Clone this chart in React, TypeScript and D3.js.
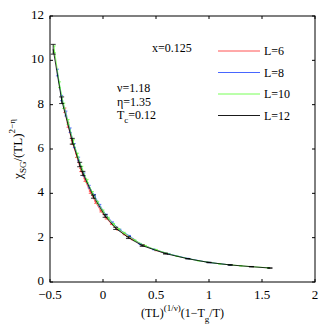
import React from 'react';
import * as d3 from 'd3';

const W = 332;
const H = 332;
const margin = { top: 16, right: 17, bottom: 50, left: 50 };

const xTicks = [-0.5, 0, 0.5, 1, 1.5, 2];
const yTicks = [0, 2, 4, 6, 8, 10, 12];

// L=6
const x6 = [-0.36, -0.33, -0.29, -0.25, -0.21, -0.17, -0.12, -0.07, -0.02, 0.03, 0.08, 0.14, 0.2, 0.28, 0.38, 0.5, 0.62];
const y6 = [7.75, 7.08, 6.3, 5.7, 5.05, 4.6, 4.05, 3.6, 3.2, 2.88, 2.62, 2.37, 2.16, 1.92, 1.66, 1.43, 1.26];
const e6 = [0.1, 0.1, 0.09, 0.08, 0.07, 0.06, 0.05, 0.05, 0.04, 0.04, 0.03, 0.03, 0.03, 0.02, 0.02, 0.02, 0.01];

// L=8
const x8 = [-0.43, -0.39, -0.35, -0.31, -0.27, -0.23, -0.18, -0.13, -0.08, -0.03, 0.03, 0.09, 0.16, 0.25, 0.35, 0.48, 0.62, 0.8, 1.0, 1.2];
const y8 = [9.45, 8.3, 7.6, 6.85, 6.15, 5.55, 4.85, 4.3, 3.9, 3.45, 3.02, 2.68, 2.35, 2.08, 1.72, 1.47, 1.27, 1.06, 0.88, 0.77];
const e8 = [0.15, 0.12, 0.11, 0.1, 0.09, 0.08, 0.07, 0.06, 0.05, 0.05, 0.04, 0.03, 0.03, 0.02, 0.02, 0.02, 0.01, 0.01, 0.01, 0.01];

// L=10
const x10 = [-0.46, -0.41, -0.37, -0.33, -0.28, -0.24, -0.2, -0.15, -0.1, -0.05, 0.0, 0.05, 0.1, 0.15, 0.2, 0.3, 0.4, 0.5, 0.7, 0.9, 1.1, 1.3, 1.56];
const y10 = [10.5, 8.9, 7.95, 7.22, 6.32, 5.72, 5.14, 4.56, 4.02, 3.59, 3.2, 2.88, 2.6, 2.38, 2.21, 1.88, 1.63, 1.45, 1.16, 0.96, 0.82, 0.73, 0.64];
const e10 = [0.15, 0.13, 0.12, 0.11, 0.1, 0.09, 0.08, 0.07, 0.06, 0.05, 0.05, 0.04, 0.04, 0.03, 0.03, 0.02, 0.02, 0.02, 0.01, 0.01, 0.01, 0.01, 0.01];

// L=12
const x12 = [-0.47, -0.39, -0.29, -0.22, -0.19, -0.09, 0.02, 0.12, 0.24, 0.37, 0.59, 0.8, 1.0, 1.2, 1.4, 1.575];
const y12 = [10.5, 8.2, 6.35, 5.3, 4.9, 3.85, 2.98, 2.42, 2.0, 1.64, 1.28, 1.05, 0.88, 0.77, 0.69, 0.63];
const e12 = [0.22, 0.15, 0.13, 0.1, 0.09, 0.07, 0.06, 0.05, 0.04, 0.03, 0.02, 0.01, 0.01, 0.01, 0.01, 0.01];

const series = [
  { label: 'L=6', color: '#ff4040', xs: x6, ys: y6, es: e6, cap: 1.5 },
  { label: 'L=8', color: '#3355ff', xs: x8, ys: y8, es: e8, cap: 1.5 },
  { label: 'L=10', color: '#66ff44', xs: x10, ys: y10, es: e10, cap: 1.5 },
  { label: 'L=12', color: '#000000', xs: x12, ys: y12, es: e12, cap: 2.5 },
];

export default function App() {
  const innerW = W - margin.left - margin.right;
  const innerH = H - margin.top - margin.bottom;
  const x = d3.scaleLinear().domain([-0.5, 2]).range([0, innerW]);
  const y = d3.scaleLinear().domain([0, 12]).range([innerH, 0]);
  const line = d3.line<[number, number]>().x(d => x(d[0])).y(d => y(d[1]));
  const font = 'Liberation Serif, Times New Roman, serif';
  const tk = 3;

  return (
    <svg width={W} height={H} style={{ position: 'absolute', left: 0, top: 0, background: '#fff' }} fontFamily={font}>
      <g transform={`translate(${margin.left},${margin.top})`}>
        {series.map(s => (
          <g key={s.label} stroke={s.color} fill="none" strokeWidth={0.8}>
            <path d={line(s.xs.map((v, i) => [v, s.ys[i]] as [number, number])) || ''} />
            {s.xs.map((v, i) => {
              const cx = x(v);
              const t = y(s.ys[i] + s.es[i]);
              const b = y(s.ys[i] - s.es[i]);
              return (
                <g key={i}>
                  <line x1={cx} x2={cx} y1={t} y2={b} />
                  <line x1={cx - s.cap} x2={cx + s.cap} y1={t} y2={t} />
                  <line x1={cx - s.cap} x2={cx + s.cap} y1={b} y2={b} />
                </g>
              );
            })}
          </g>
        ))}

        <rect x={0} y={0} width={innerW} height={innerH} fill="none" stroke="#000" strokeWidth={1} />
        {xTicks.map(t => (
          <g key={'x' + t}>
            <line x1={x(t)} x2={x(t)} y1={innerH} y2={innerH - tk} stroke="#000" />
            <line x1={x(t)} x2={x(t)} y1={0} y2={tk} stroke="#000" />
            <text x={x(t)} y={innerH + 17} fontSize={13} textAnchor="middle">
              {t < 0 ? '\u2212' + Math.abs(t) : String(t)}
            </text>
          </g>
        ))}
        {yTicks.map(t => (
          <g key={'y' + t}>
            <line x1={0} x2={tk} y1={y(t)} y2={y(t)} stroke="#000" />
            <line x1={innerW} x2={innerW - tk} y1={y(t)} y2={y(t)} stroke="#000" />
            <text x={-6} y={y(t) + 3} fontSize={13} textAnchor="end">{t}</text>
          </g>
        ))}

        <text x={innerW / 2} y={innerH + 35} fontSize={12} textAnchor="middle">
          (TL)<tspan dy={-6} fontSize={9}>(1/ν)</tspan><tspan dy={6}>(1−T</tspan><tspan dy={5} fontSize={9}>g</tspan><tspan dy={-5}>/T)</tspan>
        </text>
        <text transform={`translate(-28,${innerH / 2}) rotate(-90)`} fontSize={13} textAnchor="middle">
          χ<tspan dy={4} fontSize={9}>SG</tspan><tspan dy={-4}>/(TL)</tspan><tspan dy={-7} fontSize={9}>2−η</tspan>
        </text>

        <text x={102} y={36} fontSize={12}>x=0.125</text>
        <text x={67} y={76} fontSize={12}>ν=1.18</text>
        <text x={67} y={90} fontSize={12}>η=1.35</text>
        <text x={67} y={103} fontSize={12}>T<tspan dy={4} fontSize={9}>c</tspan><tspan dy={-4}>=0.12</tspan></text>

        {series.map((s, i) => (
          <g key={'lg' + s.label}>
            <line x1={168} x2={210} y1={35 + i * 21.5} y2={35 + i * 21.5} stroke={s.color} strokeWidth={0.9} />
            <text x={214} y={39 + i * 21.5} fontSize={12}>{s.label}</text>
          </g>
        ))}
      </g>
    </svg>
  );
}
